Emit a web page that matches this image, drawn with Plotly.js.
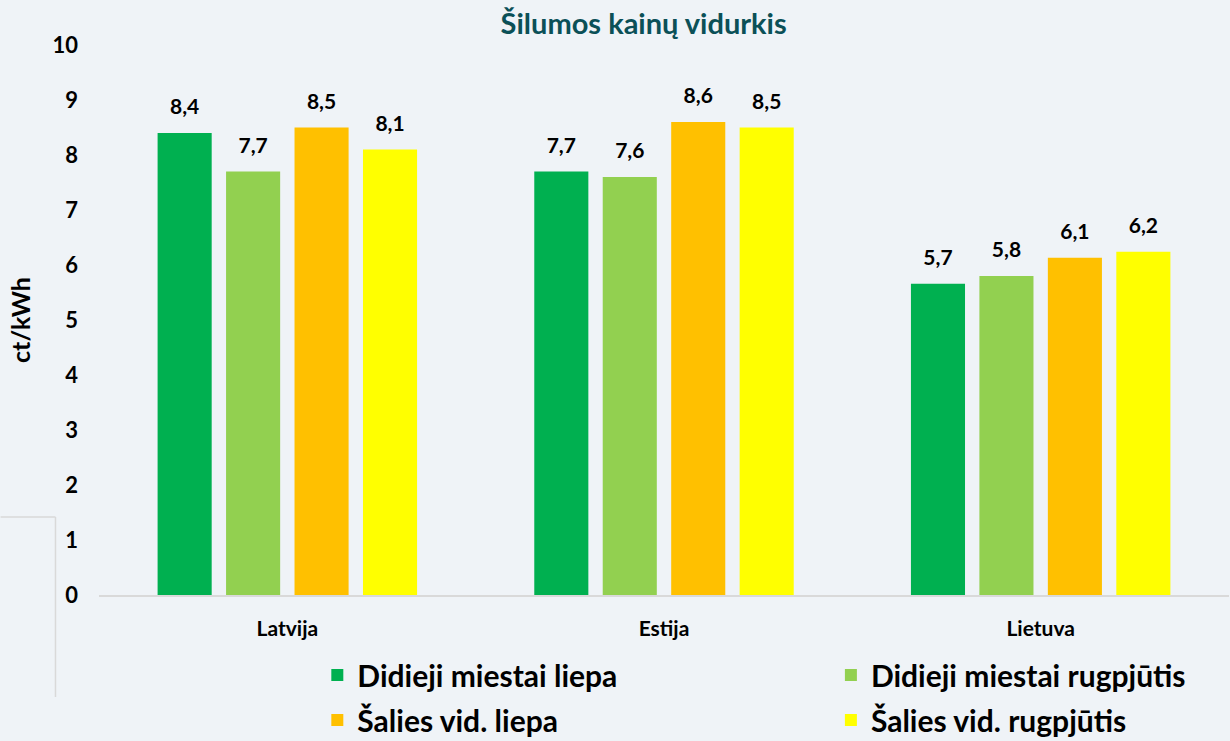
<!DOCTYPE html>
<html>
<head>
<meta charset="utf-8">
<script src="https://cdn.plot.ly/plotly-3.0.1.min.js"></script>
<style>html,body{margin:0;padding:0;background:#eff3f7;}#chart{width:1230px;height:741px;}</style>
</head>
<body>
<div id="chart"></div>
<script>
const categories = ["Latvija", "Estija", "Lietuva"];
const seriesNames = ["Didieji miestai liepa", "Didieji miestai rugpjūtis", "Šalies vid. liepa", "Šalies vid. rugpjūtis"];
const didLiepa = [8.4, 7.7, 5.66];
const didRugp = [7.7, 7.6, 5.8];
const salLiepa = [8.5, 8.6, 6.13];
const salRugp = [8.1, 8.5, 6.24];
const yTicks = [0,1,2,3,4,5,6,7,8,9,10];

const seriesValues = [didLiepa, didRugp, salLiepa, salRugp];
const colors = ["#00b050", "#92d050", "#ffc000", "#ffff00"];
const legendIds = ["legend", "legend2", "legend", "legend2"];
const FONT = "Lato, 'Open Sans', sans-serif";

const traces = [];
seriesValues.forEach((vals, i) => {
  traces.push({
    type: "bar", name: seriesNames[i], x: categories, y: vals,
    marker: {color: colors[i]}, legend: legendIds[i], legendgroup: "g" + i,
    hoverinfo: "x+y+name"
  });
});
seriesValues.forEach((vals, i) => {
  traces.push({
    type: "scatter", mode: "markers+text", x: categories, y: vals,
    marker: {size: 20, opacity: 0}, showlegend: false,
    texttemplate: "%{y:.1f}", textposition: "top center",
    textfont: {family: FONT, size: 21, color: "#000", weight: "bold"},
    cliponaxis: false, hoverinfo: "skip"
  });
});

const legendFont = {family: FONT, size: 30, color: "#000", weight: "bold"};
const layout = {
  width: 1230, height: 741,
  paper_bgcolor: "#eff3f7", plot_bgcolor: "#eff3f7",
  margin: {l: 98.5, r: 0.5, t: 45, b: 146, autoexpand: false},
  separators: ", ",
  barmode: "group", bargap: 0.273, bargroupgap: 0.21,
  scattermode: "group",
  font: {family: FONT, color: "#000"},
  title: {text: "Šilumos kainų vidurkis", x: 0.482, xref: "paper", xanchor: "center", y: 0.968, yanchor: "middle",
          font: {family: FONT, size: 29, color: "#0b5057", weight: "bold"}},
  xaxis: {type: "category", showgrid: false, showline: true, linecolor: "#d9d9d9", linewidth: 1.5,
          ticks: "", tickfont: {family: FONT, size: 21, color: "#000", weight: "bold"},
          ticklabelstandoff: 14, zeroline: false},
  yaxis: {range: [0, 10], tickvals: yTicks, showgrid: false, showline: false, zeroline: false, ticks: "",
          tickfont: {family: FONT, size: 22, color: "#000", weight: "bold"}, ticklabelstandoff: 20,
          title: {text: "ct/kWh", font: {family: FONT, size: 25, color: "#000", weight: "bold"}, standoff: 14}},
  legend: {orientation: "v", x: 0.1932, y: -0.0982, xanchor: "left", yanchor: "top", bgcolor: "rgba(0,0,0,0)",
           font: legendFont, tracegroupgap: 3},
  legend2: {orientation: "v", x: 0.6477, y: -0.0982, xanchor: "left", yanchor: "top", bgcolor: "rgba(0,0,0,0)",
           font: legendFont, tracegroupgap: 3},
  shapes: [
    {type: "line", xref: "paper", yref: "paper", x0: -0.0871, x1: -0.0385, y0: 0.1418, y1: 0.1418, line: {color: "#d9d9d9", width: 1.5}},
    {type: "line", xref: "paper", yref: "paper", x0: -0.0385, x1: -0.0385, y0: 0.1418, y1: -0.1855, line: {color: "#d9d9d9", width: 1.5}}
  ],
  showlegend: true
};

Plotly.newPlot("chart", traces, layout, {displayModeBar: false, staticPlot: true});
</script>
</body>
</html>
